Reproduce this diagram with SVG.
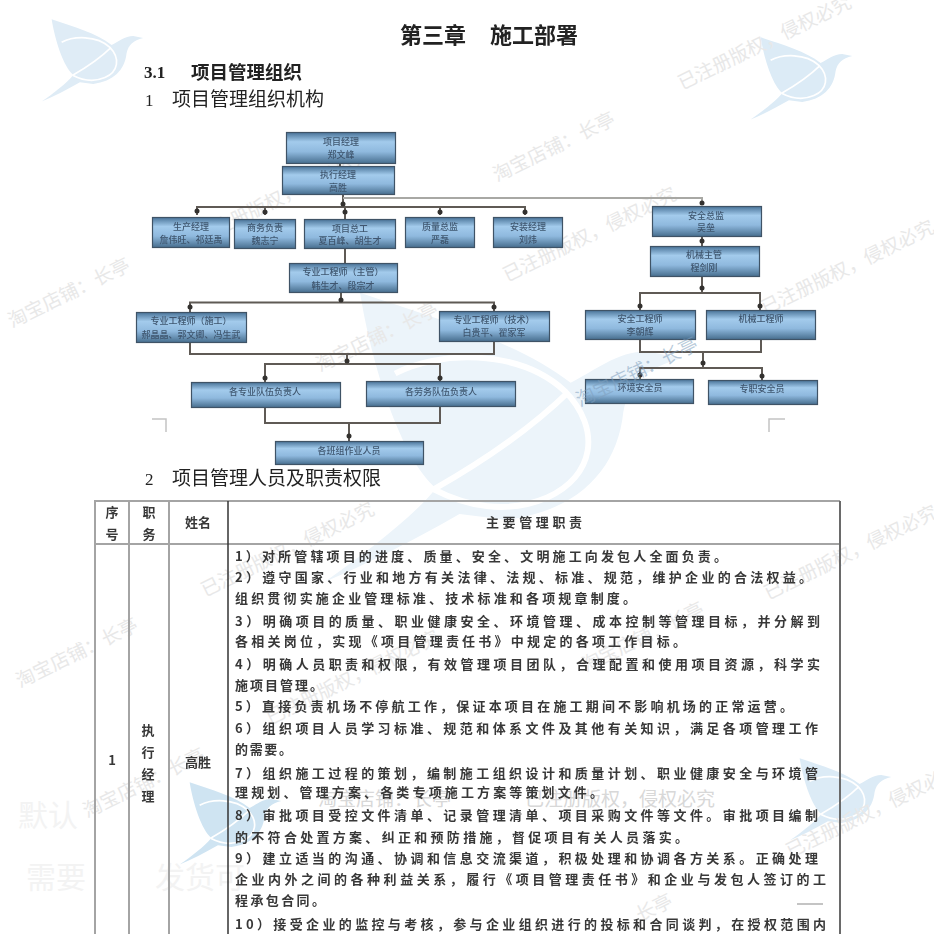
<svg xmlns="http://www.w3.org/2000/svg" width="934" height="934" viewBox="0 0 934 934">
<style>
text{font-family:"Noto Sans CJK SC","Noto Sans",sans-serif}
.wm{fill:#e8e8e8;font-size:19px}
.wm2{fill:#f3f3f3;font-size:30px}
.h{fill:#222;filter:url(#b3)}
.nb{fill:url(#ng);stroke:#3f5366;stroke-width:1.2}
.nt{fill:#3f566f;font-size:9px;text-anchor:middle;font-weight:500;filter:url(#b6)}
.c{fill:none;stroke:#5f5a55;stroke-width:2}
.cl{fill:none;stroke:#a8a8a4;stroke-width:2}
.d{fill:#33312f}
.g{stroke:#a4a4a4;stroke-width:2;fill:none}
.l{fill:#383838;font-size:13px;font-weight:700;filter:url(#b4)}
.tc{fill:#383838;font-size:13px;text-anchor:middle;font-weight:700;filter:url(#b4)}
</style>
<defs>
<linearGradient id="ng" x1="0" y1="0" x2="0" y2="1">
<stop offset="0" stop-color="#4a7499"/><stop offset=".3" stop-color="#a3cbec"/><stop offset=".62" stop-color="#8fb9de"/><stop offset="1" stop-color="#476e8e"/>
</linearGradient>
<filter id="b3" x="-5%" y="-20%" width="110%" height="140%"><feGaussianBlur stdDeviation=".35"/></filter>
<filter id="b4" x="-5%" y="-30%" width="110%" height="160%"><feGaussianBlur stdDeviation=".5"/></filter>
<filter id="b6" x="-10%" y="-40%" width="120%" height="180%"><feGaussianBlur stdDeviation=".7"/></filter>
<symbol id="bird" overflow="visible">
<path d="M65,28C130,50 200,70 245,105C265,95 285,78 310,78L340,84C310,92 295,105 290,130C285,180 250,215 190,222L150,217C110,240 70,260 35,275C70,250 110,220 130,195C100,170 75,90 65,28Z"/>
<path d="M95,97C130,78 200,75 240,112C272,145 265,185 225,203C190,218 155,210 128,196M128,196C165,175 210,145 243,113" fill="none" stroke="#fff" stroke-width="5"/>
</symbol>
</defs>
<rect width="934" height="934" fill="#fff"/>
<g id="logos">
<use href="#bird" transform="translate(284 260) scale(1.17)" fill="#ecf4fa"/>
<use href="#bird" transform="translate(30 10) scale(.333)" fill="#dfecf6"/>
<use href="#bird" transform="translate(739 28) scale(.333)" fill="#dcebf6"/>
<use href="#bird" transform="translate(168 773) scale(.333)" fill="#cfe4f2"/>
<use href="#bird" transform="translate(778 749) scale(.333)" fill="#dcebf6"/>
</g>
<g id="watermarks">
<text class="wm" x="682" y="90" transform="rotate(-26 682 90)">已注册版权，侵权必究</text>
<text class="wm" x="497" y="182" transform="rotate(-26 497 182)">淘宝店铺：长亭</text>
<text class="wm" x="200" y="244" transform="rotate(-26 200 244)">已注册版权，侵权必究</text>
<text class="wm" x="507" y="282" transform="rotate(-26 507 282)">已注册版权，侵权必究</text>
<text class="wm" x="765" y="315" transform="rotate(-26 765 315)">已注册版权，侵权必究</text>
<text class="wm" x="12" y="328" transform="rotate(-26 12 328)">淘宝店铺：长亭</text>
<text class="wm" x="320" y="372" transform="rotate(-26 320 372)">淘宝店铺：长亭</text>
<text class="wm" x="205" y="597" transform="rotate(-26 205 597)">已注册版权，侵权必究</text>
<text class="wm" x="768" y="600" transform="rotate(-26 768 600)">已注册版权，侵权必究</text>
<text class="wm" x="20" y="688" transform="rotate(-26 20 688)">淘宝店铺：长亭</text>
<text class="wm" x="270" y="725" transform="rotate(-26 270 725)">已注册版权，侵权必究</text>
<text class="wm" x="586" y="672" transform="rotate(-26 586 672)">淘宝店铺：长亭</text>
<text class="wm" x="87" y="818" transform="rotate(-26 87 818)">淘宝店铺：长亭</text>
<text class="wm" x="318" y="806" style="fill:#d8d8d8">淘宝店铺：长亭</text>
<text class="wm" x="525" y="806" style="fill:#d8d8d8">已注册版权，侵权必究</text>
<text class="wm" x="790" y="858" transform="rotate(-26 790 858)">已注册版权，侵权必究</text>
<text class="wm" x="640" y="922" transform="rotate(-26 640 922)">长亭</text>
<text class="wm2" x="18" y="826">默认</text>
<text class="wm2" x="26" y="888">需要</text>
<text class="wm2" x="155" y="888">发货可</text>
</g>
<g id="headings">
<text class="h" x="400" y="43" font-size="22" font-weight="700">第三章</text>
<text class="h" x="490" y="43" font-size="22" font-weight="700">施工部署</text>
<text class="h" x="144" y="78" font-size="17" font-weight="700" style="font-family:'Liberation Serif',serif">3.1</text>
<text class="h" x="191" y="79" font-size="18.500" font-weight="700">项目管理组织</text>
<text class="h" x="145" y="106" font-size="17" style="font-family:'Liberation Serif',serif">1</text>
<text class="h" x="172" y="106" font-size="19">项目管理组织机构</text>
<text class="h" x="145" y="485" font-size="17" style="font-family:'Liberation Serif',serif">2</text>
<text class="h" x="172" y="485" font-size="19">项目管理人员及职责权限</text>
</g>
<g id="connectors">
<path class="c" d="M340,163V166M343,194V207M197,215V207H525V215M265,207V215M345,207V219M440,207V215"/>
<path class="cl" d="M343,198H702V205"/>
<path class="c" d="M345,248V263M341,292V302.500M190,312V302.500H494V311"/>
<path class="c" d="M190,342V354H494V342M347,354V364M265,382V364H440V381"/>
<path class="c" d="M265,407V423H440V406M349,423V441"/>
<path class="c" d="M702,236V246M702,276V293M640,310V293H760V310"/>
<path class="c" d="M640,339V352H761V339M703,352V368M640,379V368H762V380"/>
<circle class="d" cx="197" cy="211" r="2.500"/><circle class="d" cx="265" cy="212" r="2.500"/><circle class="d" cx="345" cy="212" r="2.500"/><circle class="d" cx="440" cy="212" r="2.500"/><circle class="d" cx="525" cy="212" r="2.500"/><circle class="d" cx="343" cy="204" r="2.500"/>
<circle class="d" cx="702" cy="203" r="2.500"/><circle class="d" cx="341" cy="300" r="2.500"/><circle class="d" cx="190" cy="307" r="2.500"/><circle class="d" cx="494" cy="307" r="2.500"/>
<circle class="d" cx="347" cy="361" r="2.500"/><circle class="d" cx="265" cy="378" r="2.500"/><circle class="d" cx="440" cy="378" r="2.500"/><circle class="d" cx="349" cy="436" r="2.500"/>
<circle class="d" cx="702" cy="241" r="2.500"/><circle class="d" cx="702" cy="288" r="2.500"/><circle class="d" cx="640" cy="306" r="2.500"/><circle class="d" cx="760" cy="306" r="2.500"/>
<circle class="d" cx="703" cy="363" r="2.500"/><circle class="d" cx="640" cy="375" r="2.500"/><circle class="d" cx="762" cy="376" r="2.500"/>
</g>
<g id="n1"><rect class="nb" x="286.500" y="132.500" width="109" height="31"/><text class="nt" x="341" y="145">项目经理</text><text class="nt" x="341" y="158">郑文峰</text></g>
<g id="n2"><rect class="nb" x="282.500" y="166.500" width="112" height="28"/><text class="nt" x="338" y="178">执行经理</text><text class="nt" x="338" y="191">高胜</text></g>
<g id="n3"><rect class="nb" x="152.500" y="217.500" width="77" height="30"/><text class="nt" x="191" y="230">生产经理</text><text class="nt" x="191" y="243">詹伟旺、祁廷禹</text></g>
<g id="n4"><rect class="nb" x="234.500" y="219.500" width="61" height="29"/><text class="nt" x="265" y="231">商务负责</text><text class="nt" x="265" y="244">魏志宁</text></g>
<g id="n5"><rect class="nb" x="304.500" y="219.500" width="91" height="29"/><text class="nt" x="350" y="232">项目总工</text><text class="nt" x="350" y="244">夏百峰、胡生才</text></g>
<g id="n6"><rect class="nb" x="405.500" y="217.500" width="69" height="30"/><text class="nt" x="440" y="230">质量总监</text><text class="nt" x="440" y="243">严磊</text></g>
<g id="n7"><rect class="nb" x="493.500" y="217.500" width="69" height="30"/><text class="nt" x="528" y="230">安装经理</text><text class="nt" x="528" y="243">刘炜</text></g>
<g id="n8"><rect class="nb" x="289.500" y="263.500" width="108" height="29"/><text class="nt" x="343" y="275">专业工程师（主管）</text><text class="nt" x="343" y="289">韩生才、段宗才</text></g>
<g id="n9"><rect class="nb" x="136.500" y="312.500" width="110" height="30"/><text class="nt" x="191" y="324">专业工程师（施工）</text><text class="nt" x="191" y="338">郝晶晶、郭文卿、冯生武</text></g>
<g id="n10"><rect class="nb" x="439.500" y="311.500" width="110" height="30"/><text class="nt" x="494" y="323">专业工程师（技术）</text><text class="nt" x="494" y="336">白贵平、翟家军</text></g>
<g id="n11"><rect class="nb" x="191.500" y="382.500" width="149" height="25"/><text class="nt" x="265" y="395">各专业队伍负责人</text></g>
<g id="n12"><rect class="nb" x="366.500" y="381.500" width="149" height="25"/><text class="nt" x="441" y="395">各劳务队伍负责人</text></g>
<g id="n13"><rect class="nb" x="275.500" y="441.500" width="148" height="23"/><text class="nt" x="349" y="454">各班组作业人员</text></g>
<g id="n14"><rect class="nb" x="652.500" y="206.500" width="109" height="30"/><text class="nt" x="706" y="219">安全总监</text><text class="nt" x="706" y="231">吴垒</text></g>
<g id="n15"><rect class="nb" x="650.500" y="246.500" width="109" height="30"/><text class="nt" x="704" y="258">机械主管</text><text class="nt" x="704" y="271">程剑刚</text></g>
<g id="n16"><rect class="nb" x="585.500" y="310.500" width="110" height="29"/><text class="nt" x="640" y="322">安全工程师</text><text class="nt" x="640" y="335">李朝辉</text></g>
<g id="n17"><rect class="nb" x="706.500" y="310.500" width="109" height="29"/><text class="nt" x="761" y="322">机械工程师</text></g>
<g id="n18"><rect class="nb" x="585.500" y="379.500" width="108" height="24"/><text class="nt" x="640" y="391">环境安全员</text></g>
<g id="n19"><rect class="nb" x="708.500" y="380.500" width="109" height="24"/><text class="nt" x="762" y="392">专职安全员</text></g>
<text class="wm" x="580" y="407" transform="rotate(-26 580 407)" style="fill:#7f9fbd;fill-opacity:.55">淘宝店铺：长亭</text>
<g id="marks">
<path d="M152,419H166V432M769,432V419H785" fill="none" stroke="#c4c4c4" stroke-width="1.500"/>
<path d="M797,904H823" stroke="#c4c4c4" stroke-width="2"/>
</g>
<g id="table">
<path class="g" d="M95,934V501H840M95,544H840M129,501V934M169,501V934"/>
<path d="M228,501V934" stroke="#333" stroke-width="1.500"/>
<path d="M840,501V934" stroke="#6a6a6a" stroke-width="2"/>
<text class="tc" x="112" y="517">序</text><text class="tc" x="112" y="539">号</text>
<text class="tc" x="149" y="517">职</text><text class="tc" x="149" y="539">务</text>
<text class="tc" x="198" y="527">姓名</text>
<text class="tc" x="534" y="527" textLength="96">主要管理职责</text>
<text class="tc" x="112" y="765">1</text>
<text class="tc" x="148" y="735">执</text><text class="tc" x="148" y="757">行</text><text class="tc" x="148" y="779">经</text><text class="tc" x="148" y="801">理</text>
<text class="tc" x="198" y="767">高胜</text>
<text class="l" x="235" y="561" textLength="492">1）对所管辖项目的进度、质量、安全、文明施工向发包人全面负责。</text>
<text class="l" x="235" y="582" textLength="577">2）遵守国家、行业和地方有关法律、法规、标准、规范，维护企业的合法权益。</text>
<text class="l" x="235" y="603" textLength="401">组织贯彻实施企业管理标准、技术标准和各项规章制度。</text>
<text class="l" x="235" y="626" textLength="585">3）明确项目的质量、职业健康安全、环境管理、成本控制等管理目标，并分解到</text>
<text class="l" x="235" y="646" textLength="451">各相关岗位，实现《项目管理责任书》中规定的各项工作目标。</text>
<text class="l" x="235" y="669" textLength="585">4）明确人员职责和权限，有效管理项目团队，合理配置和使用项目资源，科学实</text>
<text class="l" x="235" y="690" textLength="88">施项目管理。</text>
<text class="l" x="235" y="711" textLength="558">5）直接负责机场不停航工作，保证本项目在施工期间不影响机场的正常运营。</text>
<text class="l" x="235" y="733" textLength="583">6）组织项目人员学习标准、规范和体系文件及其他有关知识，满足各项管理工作</text>
<text class="l" x="235" y="754" textLength="57">的需要。</text>
<text class="l" x="235" y="778" textLength="583">7）组织施工过程的策划，编制施工组织设计和质量计划、职业健康安全与环境管</text>
<text class="l" x="235" y="797" textLength="368">理规划、管理方案、各类专项施工方案等策划文件。</text>
<text class="l" x="235" y="820" textLength="583">8）审批项目受控文件清单、记录管理清单、项目采购文件等文件。审批项目编制</text>
<text class="l" x="235" y="842" textLength="453">的不符合处置方案、纠正和预防措施，督促项目有关人员落实。</text>
<text class="l" x="235" y="863" textLength="583">9）建立适当的沟通、协调和信息交流渠道，积极处理和协调各方关系。正确处理</text>
<text class="l" x="235" y="884" textLength="591">企业内外之间的各种利益关系，履行《项目管理责任书》和企业与发包人签订的工</text>
<text class="l" x="235" y="905" textLength="90">程承包合同。</text>
<text class="l" x="235" y="929" textLength="591">10）接受企业的监控与考核，参与企业组织进行的投标和合同谈判，在授权范围内</text>
</g>
</svg>
